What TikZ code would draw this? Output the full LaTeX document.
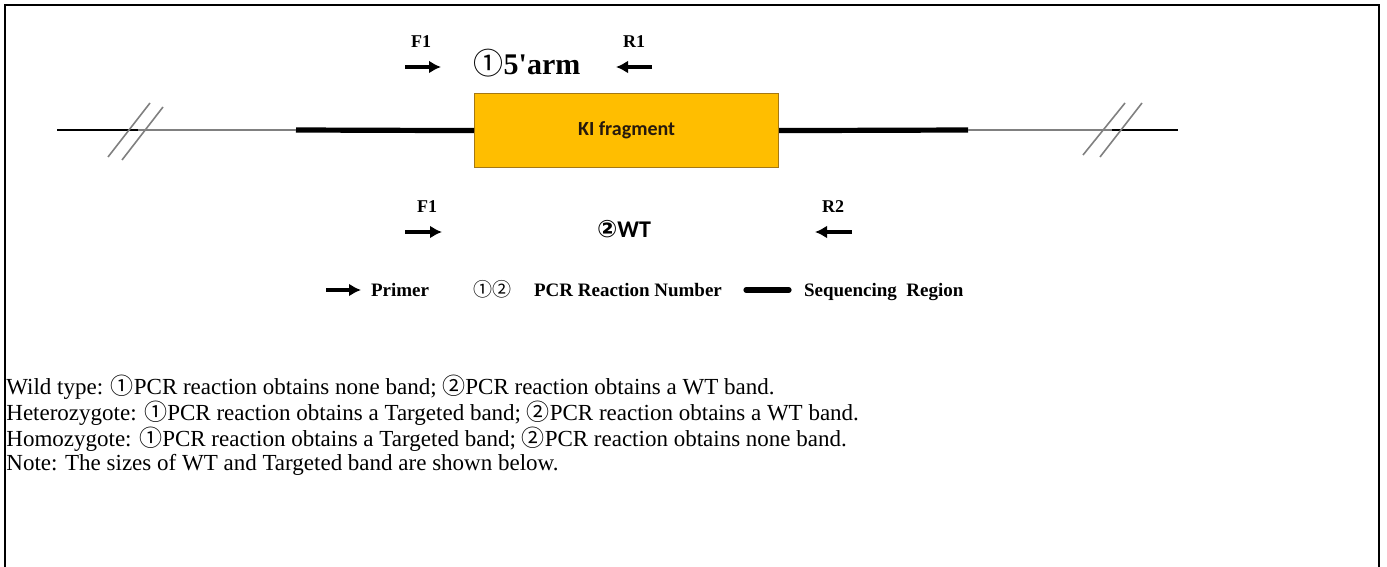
\documentclass[tikz,border=0pt]{standalone}
\usepackage{fontspec}
\setmainfont{Liberation Serif}
\newfontfamily\calibri{Carlito}
\newfontfamily\circfont{DejaVu Sans}
\newfontfamily\thincirc{Noto Sans CJK SC}
\usetikzlibrary{arrows.meta}
\definecolor{kiyellow}{RGB}{255,190,0}
\definecolor{kiedge}{RGB}{165,120,20}
\newcommand{\cnum}[1]{{\circfont #1}}
\newcommand{\tnum}[1]{{\thincirc\mdseries #1}}
\tikzset{
  primer/.style={line width=1.6pt,-{Latex[length=6pt,width=6.5pt]}},
  seqline/.style={line width=2.6pt},
  backbone/.style={line width=.7pt},
  cutmark/.style={gray,line width=.8pt},
  lbl/.style={font=\bfseries\fontsize{9}{10}\selectfont},
  legend/.style={font=\bfseries\fontsize{9.5}{11}\selectfont,anchor=base west},
  bodytext/.style={font=\fontsize{11.5}{13}\selectfont,anchor=west,inner sep=0}
}
\begin{document}
\begin{tikzpicture}[x=.5pt,y=-.5pt]
    \useasboundingbox (0,0) rectangle (1387,567);
    \draw[line width=1pt] (5,567) -- (5,5) -- (1379,5) -- (1379,567);
    % locus
    \node[draw=kiedge,fill=kiyellow,anchor=north west,inner sep=0,line width=.6pt,
      minimum width=152pt,minimum height=37pt] (ki) at (474,93)
      {\calibri\bfseries\fontsize{10}{12}\selectfont\color{black!80!brown}KI fragment};
    \coordinate (lend) at (57,130);
    \coordinate (lcut) at (138,130);
    \coordinate (seqL) at (296,130);
    \coordinate (seqR) at (968,130);
    \coordinate (rcut) at (1112,130);
    \coordinate (rend) at (1178,130);
    \draw[backbone] (lend) -- (lcut);
    \draw[backbone,gray] (lcut) -- (seqL);
    \draw[seqline] (seqL) -- (ki.west);
    \draw[seqline] (ki.east) -- (seqR);
    \draw[backbone,gray] (seqR) -- (rcut);
    \draw[backbone] (rcut) -- (rend);
    \draw[cutmark] (108,157) -- (150,103);
    \draw[cutmark] (122,160) -- (163,107);
    \draw[cutmark] (1083,155) -- (1125,103);
    \draw[cutmark] (1100,157) -- (1142,103);
    % reaction 1
    \node[lbl] (f1up) at (421,42) {F1};
    \draw[primer] (405,67) -- (441,67);
    \node[font=\bfseries\fontsize{15}{17}\selectfont] (arm) at (527,63) {\tnum{①}5\textquotesingle arm};
    \node[lbl] (r1up) at (634,42) {R1};
    \draw[primer] (652,67) -- (616,67);
    % reaction 2
    \node[lbl] (f1dn) at (427,207) {F1};
    \draw[primer] (405,232) -- (442,232);
    \node[font=\calibri\bfseries\fontsize{12}{14}\selectfont] (wt) at (624,229) {\cnum{②}WT};
    \node[lbl] (r2dn) at (833,207) {R2};
    \draw[primer] (852,232) -- (815,232);
    % legend
    \draw[primer] (326,290) -- (361,290);
    \node[legend] (lgprimer) at (364,296) {Primer};
    \node[legend] (lgnum) at (466,296) {\tnum{①②}};
    \node[legend] (lgpcr) at (527,296) {PCR Reaction Number};
    \draw[seqline,line cap=round] (746,290) -- (789,290);
    \node[legend] (lgseq) at (797,296) {Sequencing\ \ Region};
    % results
    \node[bodytext] (wild) at (6,387) {Wild type: \tnum{①}PCR reaction obtains none band; \tnum{②}PCR reaction obtains a WT band.};
    \node[bodytext] (het) at (6,413) {Heterozygote: \tnum{①}PCR reaction obtains a Targeted band; \tnum{②}PCR reaction obtains a WT band.};
    \node[bodytext] (hom) at (6,439) {Homozygote: \tnum{①}PCR reaction obtains a Targeted band; \tnum{②}PCR reaction obtains none band.};
    \node[bodytext] (note) at (6,465) {Note: The sizes of WT and Targeted band are shown below.};
\end{tikzpicture}
\end{document}
